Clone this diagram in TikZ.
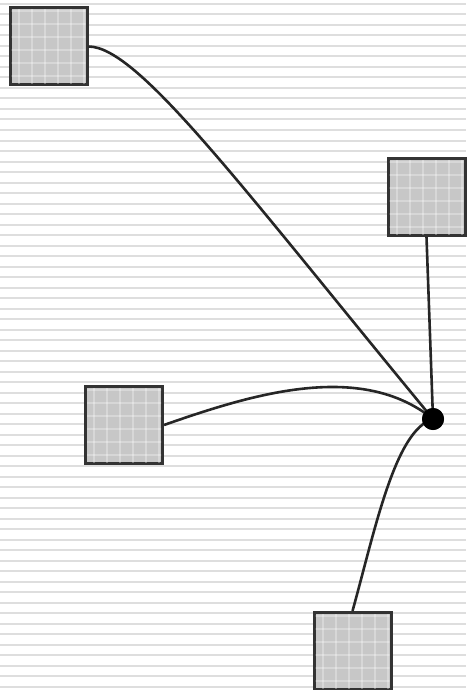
\documentclass[tikz,border=0pt]{standalone}
\begin{document}
\begin{tikzpicture}[x=1pt,y=-1pt,
  sq/.style={draw=black!80, line width=3pt, fill=black!22, minimum width=77pt, minimum height=77pt, inner sep=0pt},
  wire/.style={draw=black!85, line width=2.6pt},
  hub/.style={circle, fill=black, inner sep=0pt, minimum size=22pt}]
\useasboundingbox (0,0) rectangle (466,690);
\fill[white] (0,0) rectangle (466,690);
\foreach \yy in {4,14.5,...,690} {
  \draw[black!13, line width=2pt] (0,\yy) -- (466,\yy);
}
\node[sq] (a) at (48.5,46.5) {};
\node[sq] (b) at (426.5,197) {};
\node[sq] (c) at (124,425) {};
\node[sq] (d) at (352.5,651) {};
\foreach \n in {a,b,c,d} {
  \begin{scope}
    \clip ([shift={(3,3)}]\n.north west) rectangle ([shift={(-3,-3)}]\n.south east);
    \foreach \k in {-30,-17,...,40} {
      \draw[white, opacity=0.3, line width=2pt] ([xshift=\k]\n.north) -- ([xshift=\k]\n.south);
      \draw[white, opacity=0.3, line width=2pt] ([yshift=\k]\n.west) -- ([yshift=\k]\n.east);
    }
  \end{scope}
}
\node[hub] (h) at (433,419) {};
\draw[wire] (a.east) .. controls +(50,0) and +(-190,-230) .. (h.center);
\draw[wire] (b.south) -- (h.center);
\draw[wire] (c.east) .. controls (250,395) and (360,360) .. (h.center);
\draw[wire] (d.north) .. controls (375,530) and (395,430) .. (h.center);
\node[hub] at (h) {};
\end{tikzpicture}
\end{document}
